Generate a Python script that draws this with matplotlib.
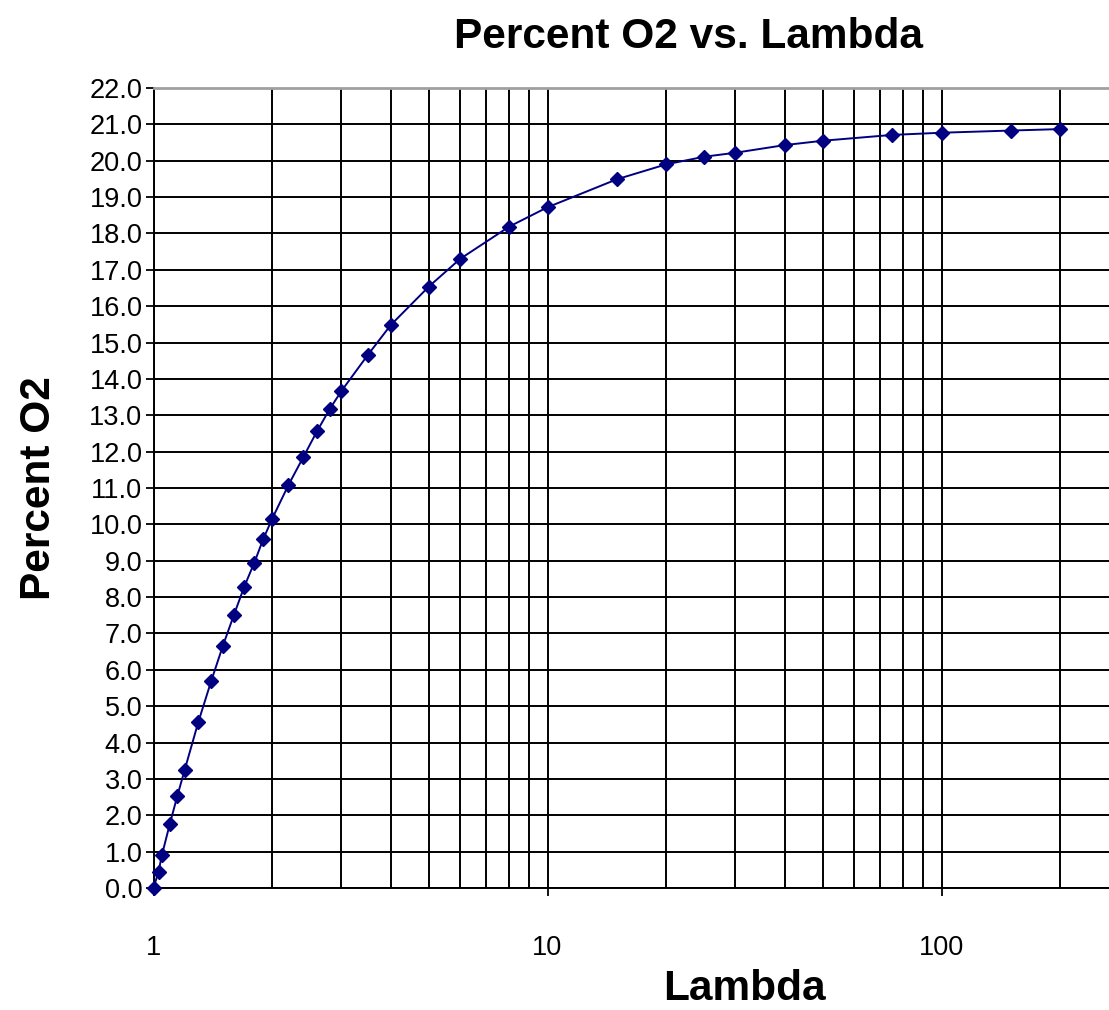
import matplotlib
matplotlib.use('Agg')
import matplotlib.pyplot as plt
import numpy as np
from matplotlib.ticker import FixedLocator, FuncFormatter, NullFormatter

# lambda values and measured oxygen percentage
lam = [1.0, 1.03, 1.05, 1.1, 1.15, 1.2, 1.3, 1.4, 1.5, 1.6, 1.7, 1.8, 1.9,
       2.0, 2.2, 2.4, 2.6, 2.8, 3.0, 3.5, 4.0, 5.0, 6.0, 8.0, 10, 15, 20,
       25, 30, 40, 50, 75, 100, 150, 200]
o2 = [0.0, 0.45, 0.9, 1.76, 2.54, 3.25, 4.57, 5.68, 6.66, 7.51, 8.29, 8.93,
      9.6, 10.15, 11.08, 11.85, 12.56, 13.17, 13.67, 14.66, 15.48, 16.54,
      17.3, 18.19, 18.72, 19.49, 19.9, 20.11, 20.22, 20.43, 20.55, 20.71,
      20.77, 20.83, 20.87]

x_major = [1, 10, 100]
y_ticks = list(range(0, 23))

plt.rcParams['font.family'] = ['Liberation Sans', 'DejaVu Sans']

W, H = 1109, 1010
fig = plt.figure(figsize=(W / 100, H / 100), dpi=100)

# plot area runs past the right edge (axis goes to 1000, picture is cropped)
x0, x1 = 153.5, 153.5 + 3 * 394
y0, y1 = 888, 88
ax = fig.add_axes([x0 / W, (H - y0) / H, (x1 - x0) / W, (y0 - y1) / H])

ax.plot(lam, o2, color='#000080', lw=1.4, marker='D', ms=7.5,
        markerfacecolor='#000080', markeredgecolor='#000080', zorder=5,
        clip_on=False)

ax.set_xscale('log')
ax.set_xlim(1, 1000)
ax.set_ylim(0, 22)

minor = [m * d for d in (1, 10, 100) for m in range(2, 10)]
ax.xaxis.set_major_locator(FixedLocator(x_major))
ax.xaxis.set_minor_locator(FixedLocator(minor))
ax.xaxis.set_major_formatter(FuncFormatter(lambda v, p: f'{v:g}'))
ax.xaxis.set_minor_formatter(NullFormatter())
ax.yaxis.set_major_locator(FixedLocator(y_ticks))
ax.yaxis.set_major_formatter(FuncFormatter(lambda v, p: f'{v:.1f}'))

ax.grid(which='both', color='black', lw=1.4)
ax.set_axisbelow(True)

ax.tick_params(axis='x', which='major', direction='out', length=6,
               width=1.3, labelsize=19.5, pad=28)
ax.tick_params(axis='x', which='minor', length=0)
ax.tick_params(axis='y', direction='out', length=6, width=1.3,
               labelsize=19.5, pad=2)

for s in ('left', 'bottom'):
    ax.spines[s].set_color('black')
    ax.spines[s].set_linewidth(1.4)
ax.spines['top'].set_color('#a0a0a0')
ax.spines['top'].set_linewidth(2)
ax.spines['top'].set_zorder(3)

ax.set_xlabel('Lambda', fontsize=30.5, fontweight='bold')
ax.xaxis.set_label_coords(0.5, -0.101)
ax.set_ylabel('Percent O2', fontsize=30.5, fontweight='bold')
ax.yaxis.set_label_coords((59 - x0) / (x1 - x0), 0.5)

fig.text(689 / W, 1 - 17 / H, 'Percent O2 vs. Lambda', fontsize=30.5,
         fontweight='bold', ha='center', va='top')

fig.savefig('out.png', dpi=100)
